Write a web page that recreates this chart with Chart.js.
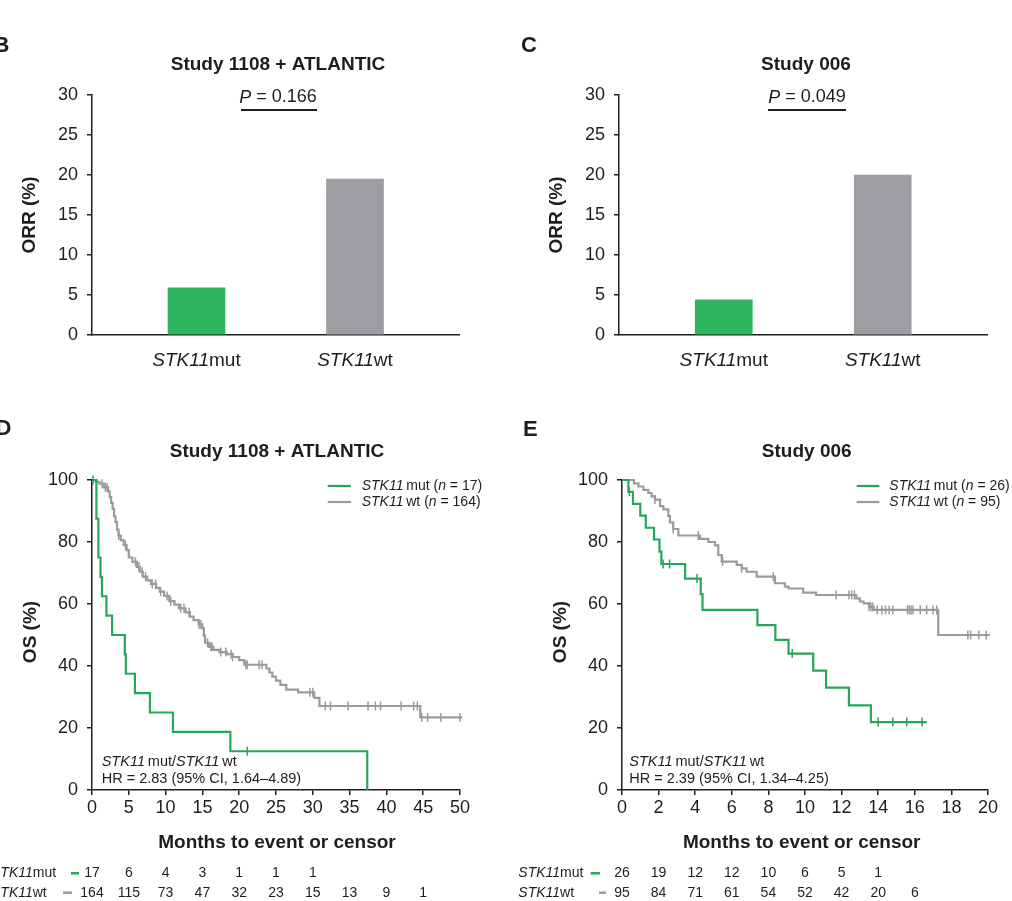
<!DOCTYPE html>
<html>
<head>
<meta charset="utf-8">
<script src="https://cdn.jsdelivr.net/npm/chart.js@4/dist/chart.umd.min.js"></script>
<style>
html,body{margin:0;padding:0;background:#fff;}
#wrap{position:relative;width:1012px;height:901px;overflow:hidden;background:#fff;}
#wrap canvas{position:absolute;left:0;top:0;}
</style>
</head>
<body>
<div id="wrap">
<canvas id="cB" width="1012" height="901"></canvas>
<canvas id="cC" width="1012" height="901"></canvas>
<canvas id="cD" width="1012" height="901"></canvas>
<canvas id="cE" width="1012" height="901"></canvas>
</div>
<script>
// ---------------- DATA ----------------
const barCategories = ['STK11mut', 'STK11wt'];
const barPositions = [1, 2];
const orrStudy1108Atlantic = [5.9, 19.5];
const orrStudy006 = [4.4, 20.0];
const orrTicks = [0, 5, 10, 15, 20, 25, 30];
const osTicks = [0, 20, 40, 60, 80, 100];
const monthTicksD = [0, 5, 10, 15, 20, 25, 30, 35, 40, 45, 50];
const monthTicksE = [0, 2, 4, 6, 8, 10, 12, 14, 16, 18, 20];

// Panel D (Study 1108 + ATLANTIC) Kaplan-Meier steps: time (months), OS (%)
const kmD_mut_t = [0, 0.6, 0.87, 1.15, 1.36, 1.96, 2.73, 4.46, 4.6, 5.83, 7.87, 11.0, 18.8, 37.4];
const kmD_mut_s = [100, 87.5, 75, 68.75, 62.5, 56.25, 50, 43.75, 37.5, 31.25, 25, 18.75, 12.5, 0];
const kmD_mut_cens = [0.14, 21.1];
const kmD_wt_t = [0, 0.5, 1.0, 1.6, 2.2, 2.4, 2.6, 2.8, 3.0, 3.2, 3.4, 3.6, 3.9, 4.3, 4.7, 5.0, 5.5, 6.1, 6.5, 6.9, 7.5, 8.0, 8.7, 9.2, 9.8, 10.5, 11.2, 11.8, 12.7, 13.3, 13.8, 14.5, 15.0, 15.2, 15.35, 15.9, 16.5, 17.3, 18.3, 19.1, 20.0, 20.7, 23.7, 24.1, 24.5, 25.0, 25.6, 26.4, 28.0, 30.2, 30.9, 44.6, 50.3];
const kmD_wt_s = [100, 99.4, 98.8, 97.6, 96.3, 94.5, 92.6, 90.7, 88.3, 86.4, 84.0, 82.1, 80.6, 79.0, 77.4, 75.0, 73.6, 72.0, 70.4, 68.8, 67.6, 66.5, 65.2, 64.0, 62.6, 60.9, 59.8, 58.6, 57.3, 55.9, 54.8, 53.4, 52.2, 49.8, 47.5, 46.2, 45.2, 44.5, 43.8, 42.9, 41.9, 40.4, 39.2, 37.9, 36.6, 35.3, 33.9, 32.4, 31.5, 29.7, 27.1, 23.4, 23.4];
const kmD_wt_cens = [1.37, 1.82, 2.05, 3.64, 4.55, 5.9, 6.37, 6.82, 7.28, 8.19, 8.64, 9.33, 10.2, 10.7, 12.06, 12.5, 13.2, 14.56, 14.8, 15.7, 16.15, 16.3, 17.5, 18.2, 18.9, 19.1, 20.9, 21.1, 22.7, 23.1, 29.6, 30.0, 31.7, 32.4, 34.8, 37.5, 38.5, 39.2, 42.0, 43.7, 44.2, 44.8, 45.6, 47.4, 50.0];

// Panel E (Study 006)
const kmE_mut_t = [0, 0.35, 0.6, 1.0, 1.3, 1.75, 2.05, 2.15, 3.45, 4.3, 4.4, 7.4, 8.38, 9.1, 10.45, 11.15, 12.4, 13.6, 16.65];
const kmE_mut_s = [100, 96.2, 92.3, 88.5, 84.6, 80.8, 76.9, 72.9, 68.2, 63.2, 58.1, 53.2, 48.4, 44.0, 38.5, 33.0, 27.3, 21.9, 21.9];
const kmE_mut_cens = [0.4, 2.25, 2.6, 4.1, 9.3, 14.0, 14.8, 15.56, 16.4];
const kmE_wt_t = [0, 0.65, 0.9, 1.17, 1.44, 1.62, 1.8, 2.08, 2.26, 2.53, 2.62, 2.8, 3.08, 4.26, 4.72, 5.08, 5.26, 5.45, 6.27, 6.54, 6.81, 7.36, 8.36, 8.9, 9.1, 9.9, 10.6, 12.8, 13.0, 13.2, 13.5, 13.75, 17.28, 20.1];
const kmE_wt_s = [100, 98.9, 97.9, 96.8, 95.8, 94.7, 93.7, 91.6, 90.5, 88.4, 86.3, 84.2, 82.1, 81.0, 80.0, 78.9, 75.8, 73.7, 72.6, 71.5, 70.4, 68.8, 66.7, 65.6, 65.0, 63.7, 62.9, 61.8, 60.8, 60.2, 59.1, 58.1, 50.0, 50.0];
const kmE_wt_cens = [1.8, 2.8, 4.17, 5.5, 6.54, 8.27, 11.7, 12.4, 12.55, 12.7, 13.5, 13.6, 13.7, 13.95, 14.2, 14.4, 14.6, 14.8, 15.6, 15.7, 15.8, 15.9, 16.3, 16.65, 17.0, 17.2, 18.9, 19.05, 19.5, 19.9];

// Numbers at risk
const riskD_times = [0, 5, 10, 15, 20, 25, 30, 35, 40, 45];
const riskD_mut = [17, 6, 4, 3, 1, 1, 1];
const riskD_wt = [164, 115, 73, 47, 32, 23, 15, 13, 9, 1];
const riskE_times = [0, 2, 4, 6, 8, 10, 12, 14, 16];
const riskE_mut = [26, 19, 12, 12, 10, 6, 5, 1];
const riskE_wt = [95, 84, 71, 61, 54, 52, 42, 20, 6];

// ---------------- STYLE ----------------
const W = 1012, H = 901;
const XAXIS_H = 40;
const FAMILY = '"Liberation Sans", Arial, Helvetica, sans-serif';
const TXT = '#1e1e1e';
const AX = '#1e1e1e';
const GREEN_BAR = '#2db45e';
const GRAY_BAR = '#9c9ea1';
const GREEN_LINE = '#27a65a';
const GRAY_LINE = '#9b9b9b';

function fnt(size, bold, italic) {
  return (italic ? 'italic ' : 'normal ') + (bold ? 'bold ' : 'normal ') + size + 'px ' + FAMILY;
}
// segs: [[text, flags]] flags may contain 'b' and/or 'i'
function rich(ctx, segs, x, y, align, size, color) {
  ctx.save();
  ctx.textBaseline = 'middle';
  ctx.textAlign = 'left';
  ctx.fillStyle = color || TXT;
  const fonts = segs.map(s => fnt(size, s[1].indexOf('b') >= 0, s[1].indexOf('i') >= 0));
  const widths = segs.map((s, i) => { ctx.font = fonts[i]; return ctx.measureText(s[0]).width; });
  const total = widths.reduce((a, b) => a + b, 0);
  let cx = align === 'center' ? x - total / 2 : (align === 'right' ? x - total : x);
  segs.forEach((s, i) => { ctx.font = fonts[i]; ctx.fillText(s[0], cx, y); cx += widths[i]; });
  ctx.restore();
  return total;
}
function vrich(ctx, segs, x, y, size) {
  ctx.save();
  ctx.translate(x, y);
  ctx.rotate(-Math.PI / 2);
  rich(ctx, segs, 0, 0, 'center', size);
  ctx.restore();
}
function hline(ctx, x1, x2, y, color, w) {
  ctx.save();
  ctx.strokeStyle = color; ctx.lineWidth = w;
  ctx.beginPath(); ctx.moveTo(x1, y); ctx.lineTo(x2, y); ctx.stroke();
  ctx.restore();
}
function splitLabel(cat) { // 'STK11mut' -> italic gene + upright suffix
  return [['STK11', 'i'], [cat.replace('STK11', ''), '']];
}

function survAt(ts, ss, t) {
  let v = ss[0];
  for (let i = 0; i < ts.length; i++) { if (ts[i] <= t) v = ss[i]; }
  return v;
}
function kmPoints(ts, ss) { return ts.map((t, i) => ({ x: t, y: ss[i] })); }
function censPoints(ts, ss, cs) { return cs.map(c => ({ x: c, y: survAt(ts, ss, c) })); }

const tickFont = { family: FAMILY, size: 18 };

function yAxis(min, max, tickArr, box) {
  return {
    type: 'linear', min: min, max: max, position: 'left',
    afterBuildTicks: s => { s.ticks = tickArr.map(v => ({ value: v })); },
    ticks: { font: tickFont, color: TXT, padding: 9, autoSkip: false },
    grid: { display: true, drawOnChartArea: false, drawTicks: true, tickLength: 5, color: AX, lineWidth: 1.5 },
    border: { display: true, color: AX, width: 1.5 },
    afterFit: s => { s.width = box.left - box.padLeft; }
  };
}
function padding(box) {
  return { left: box.padLeft, top: box.top, right: W - box.right, bottom: H - box.bottom - XAXIS_H };
}

// ---------------- BAR PANELS ----------------
function barChart(id, values, box, drawTexts) {
  return new Chart(document.getElementById(id), {
    type: 'bar',
    data: {
      datasets: [{
        data: barPositions.map((p, i) => ({ x: p, y: values[i] })),
        backgroundColor: [GREEN_BAR, GRAY_BAR],
        borderWidth: 0,
        barThickness: 57
      }]
    },
    options: {
      responsive: false, animation: false, devicePixelRatio: 1,
      layout: { padding: padding(box) },
      plugins: { legend: { display: false }, tooltip: { enabled: false }, title: { display: false } },
      scales: {
        x: {
          type: 'linear', min: 0.3407, max: 2.656, offset: false,
          ticks: { display: false },
          grid: { display: false, drawTicks: false, offset: false },
          border: { display: true, color: AX, width: 1.5 },
          afterFit: s => { s.height = XAXIS_H; }
        },
        y: yAxis(0, 30, orrTicks, box)
      }
    },
    plugins: [{ id: 'txt' + id, afterDraw: chart => drawTexts(chart) }]
  });
}

barChart('cB', orrStudy1108Atlantic, { padLeft: 0, left: 92, right: 459, top: 95, bottom: 335 }, chart => {
  const ctx = chart.ctx;
  rich(ctx, [['B', 'b']], -6.5, 46, 'left', 22);
  rich(ctx, [['Study 1108 + ATLANTIC', 'b']], 278, 65, 'center', 19);
  rich(ctx, [['P', 'i'], [' = 0.166', '']], 278, 97.5, 'center', 18);
  hline(ctx, 241, 317, 110, AX, 1.8);
  vrich(ctx, [['ORR (%)', 'b']], 30, 215, 19);
  const sx = chart.scales.x;
  barCategories.forEach((c, i) => rich(ctx, splitLabel(c), sx.getPixelForValue(barPositions[i]), 361, 'center', 19));
});

barChart('cC', orrStudy006, { padLeft: 500, left: 619, right: 987, top: 95, bottom: 335 }, chart => {
  const ctx = chart.ctx;
  rich(ctx, [['C', 'b']], 521, 46, 'left', 22);
  rich(ctx, [['Study 006', 'b']], 806, 65, 'center', 19);
  rich(ctx, [['P', 'i'], [' = 0.049', '']], 807, 97.5, 'center', 18);
  hline(ctx, 768, 846, 110, AX, 1.8);
  vrich(ctx, [['ORR (%)', 'b']], 557, 215, 19);
  const sx = chart.scales.x;
  barCategories.forEach((c, i) => rich(ctx, splitLabel(c), sx.getPixelForValue(barPositions[i]), 361, 'center', 19));
});

// ---------------- KM PANELS ----------------
function kmChart(id, box, xMax, xTicks, series, drawTexts) {
  const datasets = [];
  series.forEach(s => {
    datasets.push({
      data: kmPoints(s.t, s.s), borderColor: s.color, borderWidth: 2.2, stepped: 'before',
      pointRadius: 0, fill: false, clip: false, order: s.order
    });
    datasets.push({
      data: censPoints(s.t, s.s, s.c), showLine: false, pointStyle: 'line', pointRotation: 90,
      pointRadius: 4.5, pointBorderColor: s.color, pointBackgroundColor: s.color, pointBorderWidth: 1.5,
      clip: false, order: s.order
    });
  });
  return new Chart(document.getElementById(id), {
    type: 'line',
    data: { datasets: datasets },
    options: {
      responsive: false, animation: false, devicePixelRatio: 1,
      layout: { padding: padding(box) },
      plugins: { legend: { display: false }, tooltip: { enabled: false }, title: { display: false } },
      scales: {
        x: {
          type: 'linear', min: 0, max: xMax,
          afterBuildTicks: s => { s.ticks = xTicks.map(v => ({ value: v })); },
          ticks: { font: tickFont, color: TXT, padding: 2, autoSkip: false, maxRotation: 0 },
          grid: { display: true, drawOnChartArea: false, drawTicks: true, tickLength: 5, color: AX, lineWidth: 1.5 },
          border: { display: true, color: AX, width: 1.5 },
          afterFit: s => { s.height = XAXIS_H; }
        },
        y: yAxis(0, 100, osTicks, box)
      }
    },
    plugins: [{ id: 'txt' + id, afterDraw: chart => drawTexts(chart) }]
  });
}

function legendRow(ctx, x1, x2, tx, y, color, segs) {
  hline(ctx, x1, x2, y, color, 2.2);
  rich(ctx, segs, tx, y, 'left', 14);
}
function riskRows(chart, times, mut, wt, y1, y2) {
  const ctx = chart.ctx, sx = chart.scales.x;
  mut.forEach((n, i) => rich(ctx, [[String(n), '']], sx.getPixelForValue(times[i]), y1, 'center', 14));
  wt.forEach((n, i) => rich(ctx, [[String(n), '']], sx.getPixelForValue(times[i]), y2, 'center', 14));
}

kmChart('cD', { padLeft: 0, left: 92, right: 460, top: 480, bottom: 790 }, 50, monthTicksD, [
  { t: kmD_mut_t, s: kmD_mut_s, c: kmD_mut_cens, color: GREEN_LINE, order: 0 },
  { t: kmD_wt_t, s: kmD_wt_s, c: kmD_wt_cens, color: GRAY_LINE, order: 1 }
], chart => {
  const ctx = chart.ctx;
  rich(ctx, [['D', 'b']], -4.5, 429, 'left', 22);
  rich(ctx, [['Study 1108 + ATLANTIC', 'b']], 277, 452, 'center', 19);
  legendRow(ctx, 327.7, 351, 361.7, 486, GREEN_LINE, [['STK11', 'i'], ['\u2009mut (', ''], ['n', 'i'], [' = 17)', '']]);
  legendRow(ctx, 327.7, 351, 361.7, 502, GRAY_LINE, [['STK11', 'i'], ['\u2009wt (', ''], ['n', 'i'], [' = 164)', '']]);
  vrich(ctx, [['OS (%)', 'b']], 31, 632, 19);
  rich(ctx, [['STK11', 'i'], ['\u2009mut/', ''], ['STK11', 'i'], ['\u2009wt', '']], 101.7, 762, 'left', 14.5);
  rich(ctx, [['HR = 2.83 (95% CI, 1.64\u20134.89)', '']], 101.7, 778.5, 'left', 14.5);
  rich(ctx, [['Months to event or censor', 'b']], 277, 843, 'center', 19);
  rich(ctx, splitLabel('STK11mut'), -9, 873.3, 'left', 14);
  rich(ctx, splitLabel('STK11wt'), -9, 892.7, 'left', 14);
  hline(ctx, 71, 79, 873.3, GREEN_LINE, 2.5);
  hline(ctx, 63, 72, 892.7, GRAY_LINE, 2.5);
  riskRows(chart, riskD_times, riskD_mut, riskD_wt, 873.3, 892.7);
});

kmChart('cE', { padLeft: 500, left: 622, right: 988, top: 480, bottom: 790 }, 20, monthTicksE, [
  { t: kmE_mut_t, s: kmE_mut_s, c: kmE_mut_cens, color: GREEN_LINE, order: 0 },
  { t: kmE_wt_t, s: kmE_wt_s, c: kmE_wt_cens, color: GRAY_LINE, order: 1 }
], chart => {
  const ctx = chart.ctx;
  rich(ctx, [['E', 'b']], 523, 430, 'left', 22);
  rich(ctx, [['Study 006', 'b']], 806.7, 452, 'center', 19);
  legendRow(ctx, 856.7, 879.3, 889.3, 486, GREEN_LINE, [['STK11', 'i'], ['\u2009mut (', ''], ['n', 'i'], [' = 26)', '']]);
  legendRow(ctx, 856.7, 879.3, 889.3, 502, GRAY_LINE, [['STK11', 'i'], ['\u2009wt (', ''], ['n', 'i'], [' = 95)', '']]);
  vrich(ctx, [['OS (%)', 'b']], 561, 632, 19);
  rich(ctx, [['STK11', 'i'], ['\u2009mut/', ''], ['STK11', 'i'], ['\u2009wt', '']], 629.3, 762, 'left', 14.5);
  rich(ctx, [['HR = 2.39 (95% CI, 1.34\u20134.25)', '']], 629.3, 778.5, 'left', 14.5);
  rich(ctx, [['Months to event or censor', 'b']], 801.7, 843, 'center', 19);
  rich(ctx, splitLabel('STK11mut'), 518.3, 873.3, 'left', 14);
  rich(ctx, splitLabel('STK11wt'), 518.3, 892.7, 'left', 14);
  hline(ctx, 590.7, 600, 873.3, GREEN_LINE, 2.5);
  hline(ctx, 599, 606, 892.7, GRAY_LINE, 2.5);
  riskRows(chart, riskE_times, riskE_mut, riskE_wt, 873.3, 892.7);
});
</script>
</body>
</html>
